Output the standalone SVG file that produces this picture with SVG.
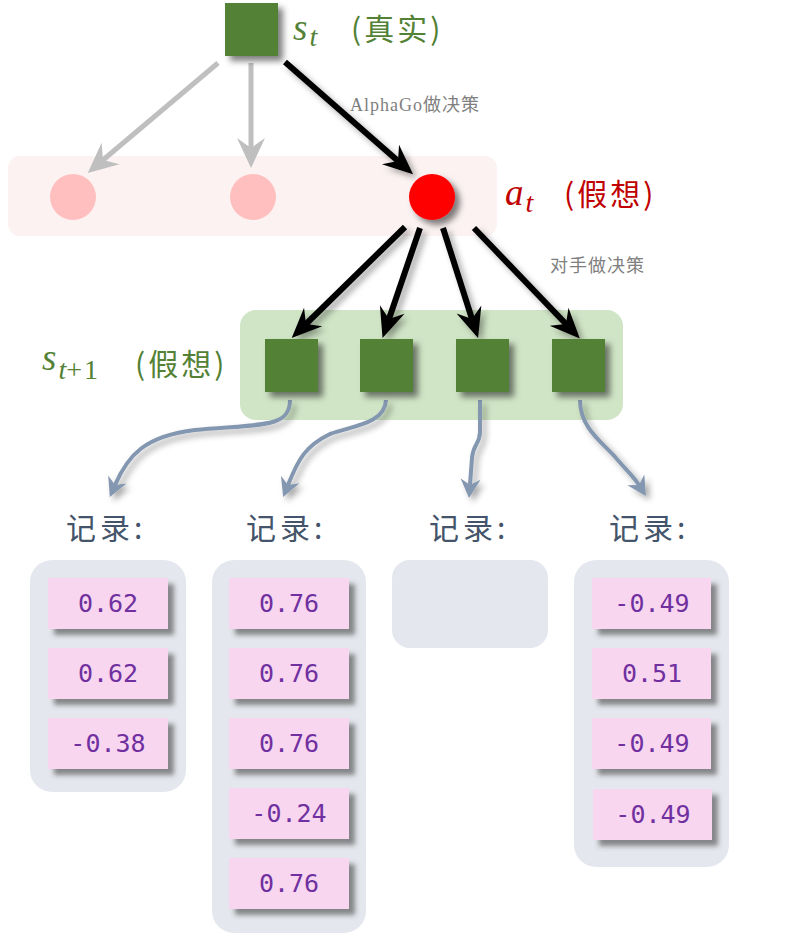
<svg xmlns="http://www.w3.org/2000/svg" width="787" height="937" viewBox="0 0 787 937">
<style>
.cjk{font-family:"Noto Sans CJK SC",sans-serif;}
.math{font-family:"Liberation Serif",serif;font-style:italic;}
.up{font-style:normal;}
.note{font-family:"Liberation Serif","Noto Sans CJK SC",serif;font-size:18px;fill:#7f7f7f;letter-spacing:1px;}
.rec{font-family:"Noto Sans CJK SC",sans-serif;font-size:30px;fill:#44546a;letter-spacing:4px;}
.box{fill:#e4e7ed;}
.item rect{fill:#f8d6ef;filter:url(#sh2);}
.item text{font-family:"DejaVu Sans Mono",monospace;font-size:25px;fill:#7030a0;text-anchor:middle;}
.sq{fill:#538135;filter:url(#sh);}
.blk{stroke:#000;stroke-width:6;fill:none;marker-end:url(#mb);}
.gry{stroke:#bfbfbf;stroke-width:5;fill:none;marker-end:url(#mg);}
.blu{stroke:#8497b0;stroke-width:4;fill:none;marker-end:url(#mu);}
</style>
<defs>
<filter id="sh" x="-30%" y="-30%" width="160%" height="160%"><feDropShadow dx="5" dy="5" stdDeviation="3" flood-color="#000" flood-opacity="0.5"/></filter>
<filter id="sh2" x="-30%" y="-30%" width="160%" height="160%"><feDropShadow dx="6" dy="6" stdDeviation="2.5" flood-color="#444" flood-opacity="0.6"/></filter>
<filter id="sha" x="-30%" y="-30%" width="160%" height="160%"><feDropShadow dx="4" dy="4" stdDeviation="3" flood-color="#000" flood-opacity="0.35"/></filter>
<marker id="mb" markerUnits="userSpaceOnUse" markerWidth="36" markerHeight="32" viewBox="-2 -15 36 30" refX="10" refY="0" orient="auto"><path d="M0,-13 L30,0 L0,13 L10,0 z" fill="#000"/></marker>
<marker id="mg" markerUnits="userSpaceOnUse" markerWidth="36" markerHeight="32" viewBox="-2 -15 36 30" refX="10" refY="0" orient="auto"><path d="M0,-14 L30,0 L0,14 L10,0 z" fill="#bfbfbf"/></marker>
<marker id="mu" markerUnits="userSpaceOnUse" markerWidth="26" markerHeight="26" viewBox="-2 -12 26 24" refX="6" refY="0" orient="auto"><path d="M0,-10 L19,0 L0,10 L6,0 z" fill="#8497b0"/></marker>
</defs>
<rect width="787" height="937" fill="#fff"/>

<!-- bands -->
<rect id="band-actions" x="8" y="156" width="489" height="80" rx="12" fill="#fcf2f2"/>
<rect id="band-states" x="240" y="310" width="383" height="110" rx="16" fill="#d0e5c6"/>

<!-- connectors -->
<g id="connectors">
  <path class="gry" d="M218,63 L103,160"/>
  <path class="gry" d="M251,63 L251,148"/>
  <g filter="url(#sha)">
    <path class="blk" d="M285,62 L398,161"/>
    <path class="blk" d="M405,227 L306,324"/>
    <path class="blk" d="M420,228 L389,319"/>
    <path class="blk" d="M443,228 L472,319"/>
    <path class="blk" d="M474,228 L566,324"/>
  </g>
  <g filter="url(#sha)">
    <path class="blu" d="M290,400 C290,428 262,424 195,430 C145,436 128,455 115,485"/>
    <path class="blu" d="M386,400 C385,424 352,426 330,434 C305,446 298,460 288,485"/>
    <path class="blu" d="M480,400 L480,432 C480,444 473,444 472,458 L470,485"/>
    <path class="blu" d="M580,400 C580,428 602,442 616,458 C628,472 634,477 639,485"/>
  </g>
</g>

<!-- top state -->
<g id="node-st">
  <rect class="sq" x="225" y="3" width="53" height="53"/>
  <text class="math" x="293" y="40" font-size="37" fill="#538135">s<tspan font-size="28" dx="2" dy="6">t</tspan></text>
  <text class="cjk" x="351" y="40" font-size="30" fill="#538135" letter-spacing="3">(真实)</text>
</g>
<text class="note" x="350" y="111">AlphaGo做决策</text>
<text class="note" x="550" y="272">对手做决策</text>

<!-- actions -->
<g id="action-1"><circle cx="73" cy="197" r="23" fill="#ffbfbf"/></g>
<g id="action-2"><circle cx="253" cy="197" r="23" fill="#ffbfbf"/></g>
<g id="action-3"><circle cx="432" cy="197" r="23" fill="#ff0000" filter="url(#sh)"/></g>
<g id="label-at">
  <text class="math" x="505" y="205" font-size="37" fill="#c00000">a<tspan font-size="28" dx="2" dy="7">t</tspan></text>
  <text class="cjk" x="564" y="205" font-size="30" fill="#c00000" letter-spacing="3">(假想)</text>
</g>

<!-- next states -->
<g id="label-st1">
  <text class="math" x="42" y="370" font-size="37" fill="#538135">s<tspan font-size="28" dx="2" dy="9">t</tspan><tspan class="up" font-size="28" letter-spacing="2">+1</tspan></text>
  <text class="cjk" x="135" y="375" font-size="30" fill="#538135" letter-spacing="3">(假想)</text>
</g>
<g id="state-1"><rect class="sq" x="265" y="339" width="53" height="53"/></g>
<g id="state-2"><rect class="sq" x="360" y="339" width="53" height="53"/></g>
<g id="state-3"><rect class="sq" x="456" y="339" width="53" height="53"/></g>
<g id="state-4"><rect class="sq" x="552" y="339" width="53" height="53"/></g>

<!-- record labels -->
<text class="rec" x="66" y="539">记录:</text>
<text class="rec" x="246" y="539">记录:</text>
<text class="rec" x="429" y="539">记录:</text>
<text class="rec" x="609" y="539">记录:</text>

<!-- record 1 -->
<g id="record-1">
  <rect class="box" x="30" y="560" width="156" height="232" rx="22"/>
  <g class="item"><rect x="48" y="578" width="120" height="51"/><text x="108" y="612">0.62</text></g>
  <g class="item"><rect x="48" y="648" width="120" height="51"/><text x="108" y="682">0.62</text></g>
  <g class="item"><rect x="48" y="718" width="120" height="51"/><text x="108" y="752">-0.38</text></g>
</g>
<!-- record 2 -->
<g id="record-2">
  <rect class="box" x="212" y="560" width="154" height="373" rx="22"/>
  <g class="item"><rect x="229" y="578" width="120" height="51"/><text x="289" y="612">0.76</text></g>
  <g class="item"><rect x="229" y="648" width="120" height="51"/><text x="289" y="682">0.76</text></g>
  <g class="item"><rect x="229" y="718" width="120" height="51"/><text x="289" y="752">0.76</text></g>
  <g class="item"><rect x="229" y="788" width="120" height="51"/><text x="289" y="822">-0.24</text></g>
  <g class="item"><rect x="229" y="858" width="120" height="51"/><text x="289" y="892">0.76</text></g>
</g>
<!-- record 3 -->
<g id="record-3">
  <rect class="box" x="392" y="560" width="156" height="88" rx="18"/>
</g>
<!-- record 4 -->
<g id="record-4">
  <rect class="box" x="574" y="560" width="155" height="307" rx="22"/>
  <g class="item"><rect x="592" y="578" width="119" height="51"/><text x="652" y="612">-0.49</text></g>
  <g class="item"><rect x="592" y="648" width="119" height="51"/><text x="652" y="682">0.51</text></g>
  <g class="item"><rect x="592" y="718" width="119" height="51"/><text x="652" y="752">-0.49</text></g>
  <g class="item"><rect x="593" y="789" width="119" height="51"/><text x="653" y="823">-0.49</text></g>
</g>
</svg>
